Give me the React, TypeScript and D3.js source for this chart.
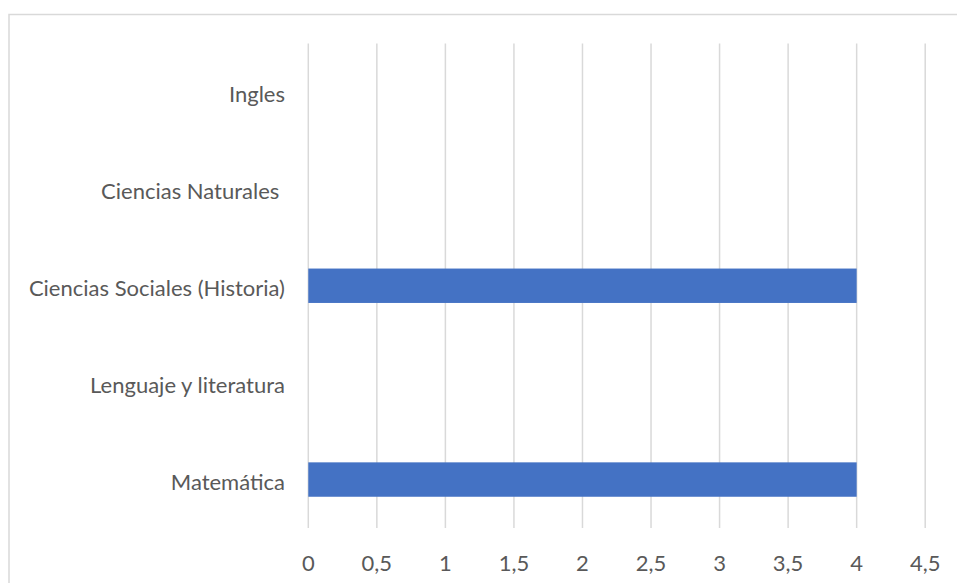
import React from "react";
import * as d3 from "d3";

const categories = [
  "Ingles",
  "Ciencias Naturales ",
  "Ciencias Sociales (Historia)",
  "Lenguaje y literatura",
  "Matemática",
];
const values = [0, 0, 4, 0, 4];
const ticks = [0, 0.5, 1, 1.5, 2, 2.5, 3, 3.5, 4, 4.5];

const W = 957;
const H = 583;

export default function App() {
  const x = d3.scaleLinear().domain([0, 4.5]).range([308.3, 925.2]);
  const y = d3.scaleBand<string>().domain(categories).range([43.5, 528]).padding(0);
  const barH = y.bandwidth() * 0.355;
  const fmt = (v: number) => String(v).replace(".", ",");
  const font = "Lato, 'Open Sans', sans-serif";
  return (
    <div style={{ position: "absolute", left: 0, top: 0 }}>
      <svg width={W} height={H} style={{ display: "block" }}>
        <rect x={0} y={0} width={W} height={H} fill="#fff" />
        <rect x={9} y={14.5} width={W + 20} height={H + 20} fill="none" stroke="#d9d9d9" strokeWidth={1.5} />
        {ticks.map((t) => (
          <line key={t} x1={x(t)} x2={x(t)} y1={43.5} y2={528} stroke="#d9d9d9" strokeWidth={1.5} />
        ))}
        {categories.map((c, i) => (
          <rect
            key={c}
            x={x(0)}
            y={(y(c) as number) + (y.bandwidth() - barH) / 2}
            width={x(values[i]) - x(0)}
            height={barH}
            fill="#4472C4"
          />
        ))}
        {categories.map((c) => (
          <text
            key={c}
            x={285}
            y={(y(c) as number) + y.bandwidth() / 2 + 2}
            textAnchor="end"
            dominantBaseline="central"
            fontFamily={font}
            fontSize={22}
            fill="#595959"
            style={{ whiteSpace: "pre" }}
          >
            {c}
          </text>
        ))}
        {ticks.map((t) => (
          <text
            key={t}
            x={x(t)}
            y={562}
            textAnchor="middle"
            dominantBaseline="central"
            fontFamily={font}
            fontSize={22}
            fill="#595959"
          >
            {fmt(t)}
          </text>
        ))}
      </svg>
    </div>
  );
}
